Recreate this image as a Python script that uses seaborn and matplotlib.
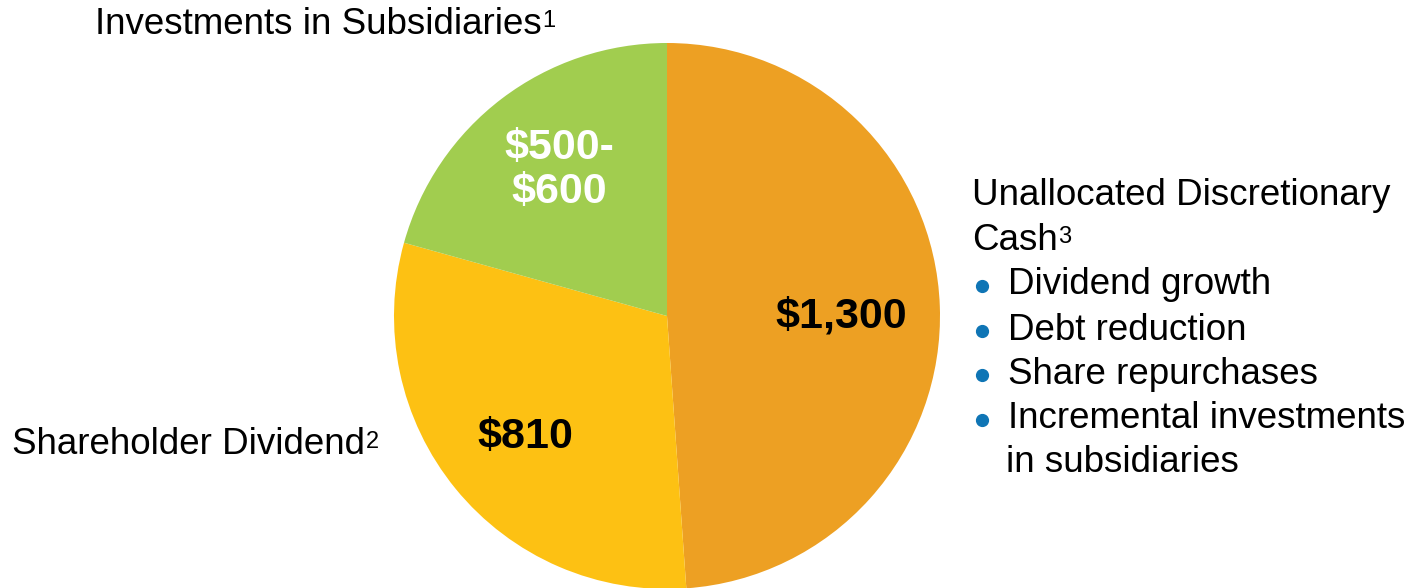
import matplotlib
matplotlib.use("Agg")
import matplotlib.pyplot as plt
from matplotlib.lines import Line2D
import seaborn as sns

# Data
categories = ["Unallocated Discretionary Cash", "Shareholder Dividend", "Investments in Subsidiaries"]
values = [1300, 810, 550]
value_labels = ["$1,300", "$810", "$500-\n$600"]
bullets = ["Dividend growth", "Debt reduction", "Share repurchases",
           "Incremental investments\nin subsidiaries"]
colors = ["#EDA023", "#FDC113", "#A1CD4F"]

sns.set_theme(style="white")
plt.rcParams['font.family'] = ['Liberation Sans', 'DejaVu Sans']

W, H = 1418, 588
fig = plt.figure(figsize=(W / 100, H / 100), dpi=100)
fig.patch.set_facecolor("white")

cx, cy, r = 667, 316, 273
ax = fig.add_axes([(cx - r) / W, (H - cy - r) / H, 2 * r / W, 2 * r / H])
ax.pie(values, colors=colors, startangle=90, counterclock=False, radius=1,
       wedgeprops=dict(linewidth=0))
ax.set_xlim(-1, 1)
ax.set_ylim(-1, 1)
ax.set_aspect("equal")
ax.axis("off")


def fx(x):
    return x / W


def fy(y):
    return 1 - y / H


FS = 26.5
VS = 31

# value labels inside slices
fig.text(fx(841), fy(316), value_labels[0], fontsize=VS, fontweight="bold",
         color="black", ha="center", va="center")
fig.text(fx(525), fy(437), value_labels[1], fontsize=VS, fontweight="bold",
         color="black", ha="center", va="center")
fig.text(fx(559), fy(170), value_labels[2], fontsize=VS, fontweight="bold",
         color="white", ha="center", va="center", linespacing=1.15)


def label_with_sup(x, y, txt, sup):
    t = fig.text(fx(x), fy(y), txt, fontsize=FS, color="black", ha="left",
                 va="center")
    plt.annotate(sup, xy=(1.0, 1.0), xycoords=t, xytext=(0.5, -2.5),
                 textcoords="offset points", fontsize=17,
                 color="black", ha="left", va="top",
                 annotation_clip=False)
    return t


label_with_sup(95, 24, "Investments in Subsidiaries", "1")
label_with_sup(12, 445, "Shareholder Dividend", "2")
fig.text(fx(972), fy(196), "Unallocated Discretionary", fontsize=FS,
         color="black", ha="left", va="center")
label_with_sup(972, 240, "Cash", "3")

bullet_y = [285, 330, 374, 419]
for yb, b in zip(bullet_y, bullets):
    lines = b.split("\n")
    fig.add_artist(Line2D([fx(982)], [fy(yb + 1)], marker="o", markersize=8.5,
                          color="#0F75B5", linestyle="none",
                          transform=fig.transFigure))
    fig.text(fx(1008), fy(yb), lines[0], fontsize=FS, color="black",
             ha="left", va="center")
    for k, ln in enumerate(lines[1:], start=1):
        fig.text(fx(1006), fy(yb + 44 * k), ln, fontsize=FS, color="black",
                 ha="left", va="center")

fig.savefig("out.png", dpi=100, facecolor="white")
